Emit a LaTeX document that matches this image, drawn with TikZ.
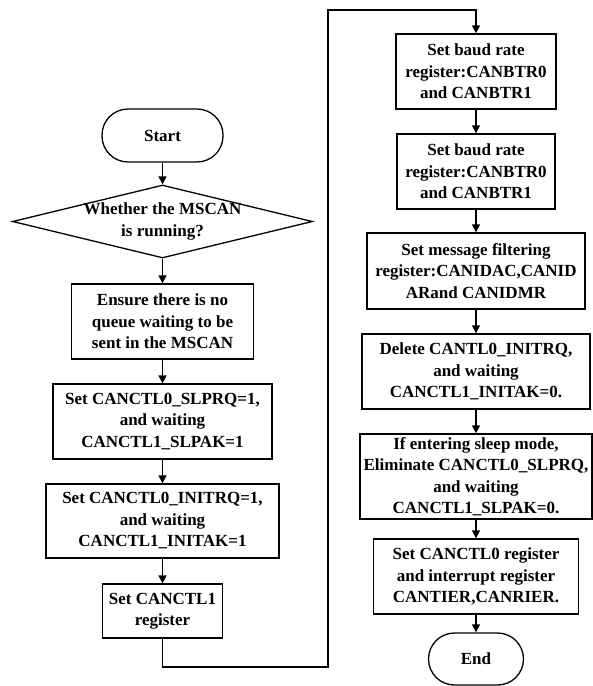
\documentclass[tikz,border=0pt]{standalone}
\usepackage{fontspec}
\setmainfont{Liberation Serif}
\usetikzlibrary{shapes.geometric,arrows.meta}
\tikzset{
  process/.style={draw, line width=1.3pt, align=center, inner sep=0pt},
  terminal/.style={draw, line width=1.3pt, rounded corners=26pt, inner sep=0pt, align=center},
  decision/.style={draw, diamond, line width=1.3pt, inner sep=0pt},
  flow/.style={line width=1.3pt, -{Triangle[length=8pt,width=8pt]}}
}
\begin{document}
\begin{tikzpicture}[x=1pt, y=-1pt, font=\fontsize{17}{21.5}\selectfont\bfseries]
                \useasboundingbox (0,0) rectangle (593,686);
                % Left column
                \node[terminal, minimum width=121pt, minimum height=53pt] (start) at (162.5,135.5) {Start};
                \node[decision, minimum width=300pt, minimum height=73pt] (run) at (162.5,221.5) {};
                \node[align=center, inner sep=0pt] (runtxt) at (run.center) {Whether the MSCAN\\is running?};
                \node[process, minimum width=182pt, minimum height=75pt] (ensure) at (162.5,321.5)
                    {Ensure there is no\\queue waiting to be\\sent in the MSCAN};
                \node[process, minimum width=219pt, minimum height=75pt] (sleep) at (162.5,421.5)
                    {Set CANCTL0\_SLPRQ=1,\\and waiting\\CANCTL1\_SLPAK=1};
                \node[process, minimum width=233pt, minimum height=74pt] (init) at (162.5,521)
                    {Set CANCTL0\_INITRQ=1,\\and waiting\\CANCTL1\_INITAK=1};
                \node[process, minimum width=120pt, minimum height=54pt] (ctl1) at (162.5,611)
                    {Set CANCTL1\\register};

                % Right column
                \node[process, minimum width=160pt, minimum height=75pt] (baud1) at (476,71.5)
                    {Set baud rate\\register:CANBTR0\\and CANBTR1};
                \node[process, minimum width=158pt, minimum height=75pt] (baud2) at (476,171.5)
                    {Set baud rate\\register:CANBTR0\\and CANBTR1};
                \node[process, minimum width=218pt, minimum height=76pt] (filter) at (476,271)
                    {Set message filtering\\register:CANIDAC,CANID\\ARand CANIDMR};
                \node[process, minimum width=228pt, minimum height=75pt] (delete) at (476,371.5)
                    {Delete CANTL0\_INITRQ,\\and waiting\\CANCTL1\_INITAK=0.};
                \node[process, minimum width=232pt, minimum height=85pt] (wake) at (476,476.5)
                    {If entering sleep mode,\\Eliminate CANCTL0\_SLPRQ,\\and waiting\\CANCTL1\_SLPAK=0.};
                \node[process, minimum width=205pt, minimum height=75pt] (irq) at (476,576.5)
                    {Set CANCTL0 register\\and interrupt register\\CANTIER,CANRIER.};
                \node[terminal, minimum width=95pt, minimum height=52pt] (end) at (476,659) {End};

                % Loop corners
                \coordinate (turnA) at (328,667);
                \coordinate (turnB) at (328,10);

                % Arrows
                \draw[flow] (start) -- (run);
                \draw[flow] (run) -- (ensure);
                \draw[flow] (ensure) -- (sleep);
                \draw[flow] (sleep) -- (init);
                \draw[flow] (init) -- (ctl1);
                \draw[flow] (ctl1.south) |- (turnA) -- (turnB) -| (baud1.north);
                \draw[flow] (baud1) -- (baud2);
                \draw[flow] (baud2) -- (filter);
                \draw[flow] (filter) -- (delete);
                \draw[flow] (delete) -- (wake);
                \draw[flow] (wake) -- (irq);
                \draw[flow] (irq) -- (end);
            \end{tikzpicture}
\end{document}
